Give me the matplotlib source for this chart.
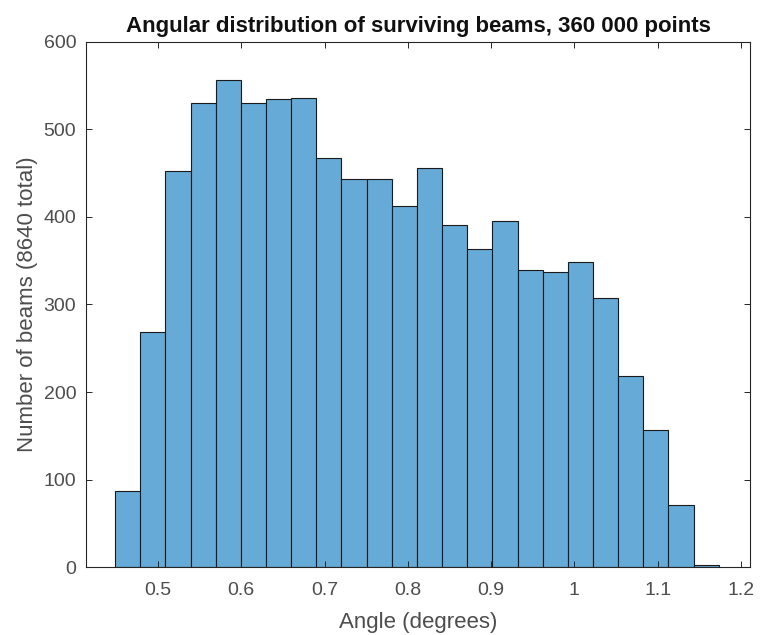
import matplotlib
matplotlib.use('Agg')
import matplotlib.pyplot as plt
import numpy as np

plt.rcParams['font.family'] = ['Liberation Sans', 'DejaVu Sans']

bin_start = 0.4485
bin_width = 0.0302
counts = [87, 269, 453, 530, 556, 530, 535, 536, 467, 443, 443, 412,
          456, 391, 363, 395, 339, 337, 349, 307, 218, 157, 71, 2]
edges = bin_start + bin_width * np.arange(len(counts) + 1)

fig = plt.figure(figsize=(7.64, 6.35), dpi=100)
ax = fig.add_axes([0.1126, 0.107, 0.869, 0.827])

ax.bar(edges[:-1], counts, width=bin_width, align='edge',
       color='#66aad7', edgecolor='#1a1a1a', linewidth=0.8)

ax.set_xlim(0.4136, 1.2108)
ax.set_ylim(0, 600)
ax.set_xticks([0.5, 0.6, 0.7, 0.8, 0.9, 1.0, 1.1, 1.2])
ax.set_xticklabels(['0.5', '0.6', '0.7', '0.8', '0.9', '1', '1.1', '1.2'])
ax.set_yticks(range(0, 601, 100))
ax.tick_params(direction='in', top=True, right=True, length=4, width=0.7,
               labelsize=14, colors='#262626', labelcolor='#4d4d4d')
ax.tick_params(axis='x', pad=11)
ax.tick_params(axis='y', pad=7)
for s in ax.spines.values():
    s.set_linewidth(0.8)
    s.set_color('#262626')

ax.set_xlabel('Angle (degrees)', fontsize=16, color='#4d4d4d', labelpad=9)
ax.set_ylabel('Number of beams (8640 total)', fontsize=16, color='#4d4d4d', labelpad=4)
ax.set_title('Angular distribution of surviving beams, 360 000 points',
             fontsize=16, fontweight='bold', color='#111111', pad=7)

fig.savefig('out.png', dpi=100)
